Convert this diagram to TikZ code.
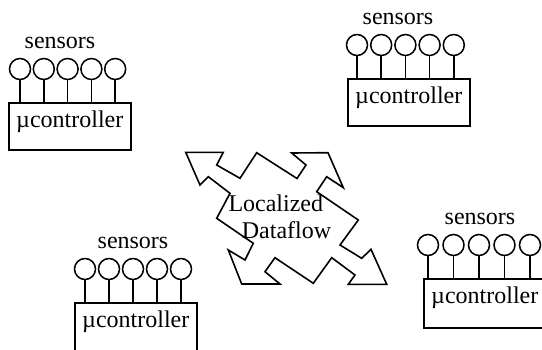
\documentclass[tikz,border=0pt]{standalone}
\usepackage{fontspec}
\setmainfont{Liberation Serif}
\usepackage{tikz}
\usetikzlibrary{positioning}
\tikzset {
    mcbox/.style = {draw=black, line width=1.6pt, minimum width=122pt, inner sep=0pt, text height=16pt, text depth=13pt},
    sensor/.style = {shape=circle, draw=black, line width=1.5pt, minimum size=21pt, inner sep=0pt},
    stem/.style = {line width=1.7pt},
    sensortext/.style = {anchor=base, inner sep=0pt},
    flow/.style = {line width=1.6pt, line join=miter}
}

\begin{document}
\begin{tikzpicture}[x=1pt, y=-1pt, every node/.style={font=\fontsize{24}{28}\selectfont}]
	\useasboundingbox (0,0) rectangle (542,349);
	% four sensor modules: name / box left / box top / box height / first stem / spacing / text x
	\foreach \m/\x/\y/\h/\s/\d/\t in {tl/8/102/47/20/23.8/60, tr/347/78/47/357/24.2/398, bl/74/302/52/85/24/133, br/423/278/49/428/25.5/480} {
	    \node[mcbox, minimum height=\h pt, text depth=\h pt-34pt, anchor=north west] (\m-mc) at (\x,\y) {µcontroller};
	    \foreach \k in {0,...,4} {
	        \node[sensor] (\m-s\k) at (\s+\k*\d, \y-33) {};
	        \draw[stem] (\m-s\k.south) -- (\m-s\k.south |- \m-mc.north);
	    }
	    \node[sensortext] (\m-txt) at (\t, \y-54) {sensors};
	}
	% zigzag four-way arrow
	\draw[flow] (185.7,152.3) -- (223.3,152.3) -- (216.7,165) -- (240,178.3) -- (256.7,152.7)
	    -- (297,178.5) -- (306,165) -- (291.7,153) -- (328,152.7) -- (343.3,187.7)
	    -- (326.7,176.7) -- (316.7,191.7) -- (358.3,220) -- (340,245) -- (361.7,258.3)
	    -- (371,249.3) -- (386.7,284.3) -- (348.3,284.3) -- (355,275) -- (331.7,257.7)
	    -- (313.3,283.3) -- (275,257.7) -- (265,271.7) -- (280,284) -- (241.7,284)
	    -- (228.3,250) -- (245,260) -- (253.3,243.3) -- (216.7,218.3) -- (230,193.3)
	    -- (208.3,176.7) -- (200,185) -- cycle;
	\node[anchor=base west, inner sep=0pt] (loc) at (228.3,211.5) {Localized};
	\node[anchor=base west, inner sep=0pt] (dat) at (241.7,238) {Dataflow};
\end{tikzpicture}
\end{document}
